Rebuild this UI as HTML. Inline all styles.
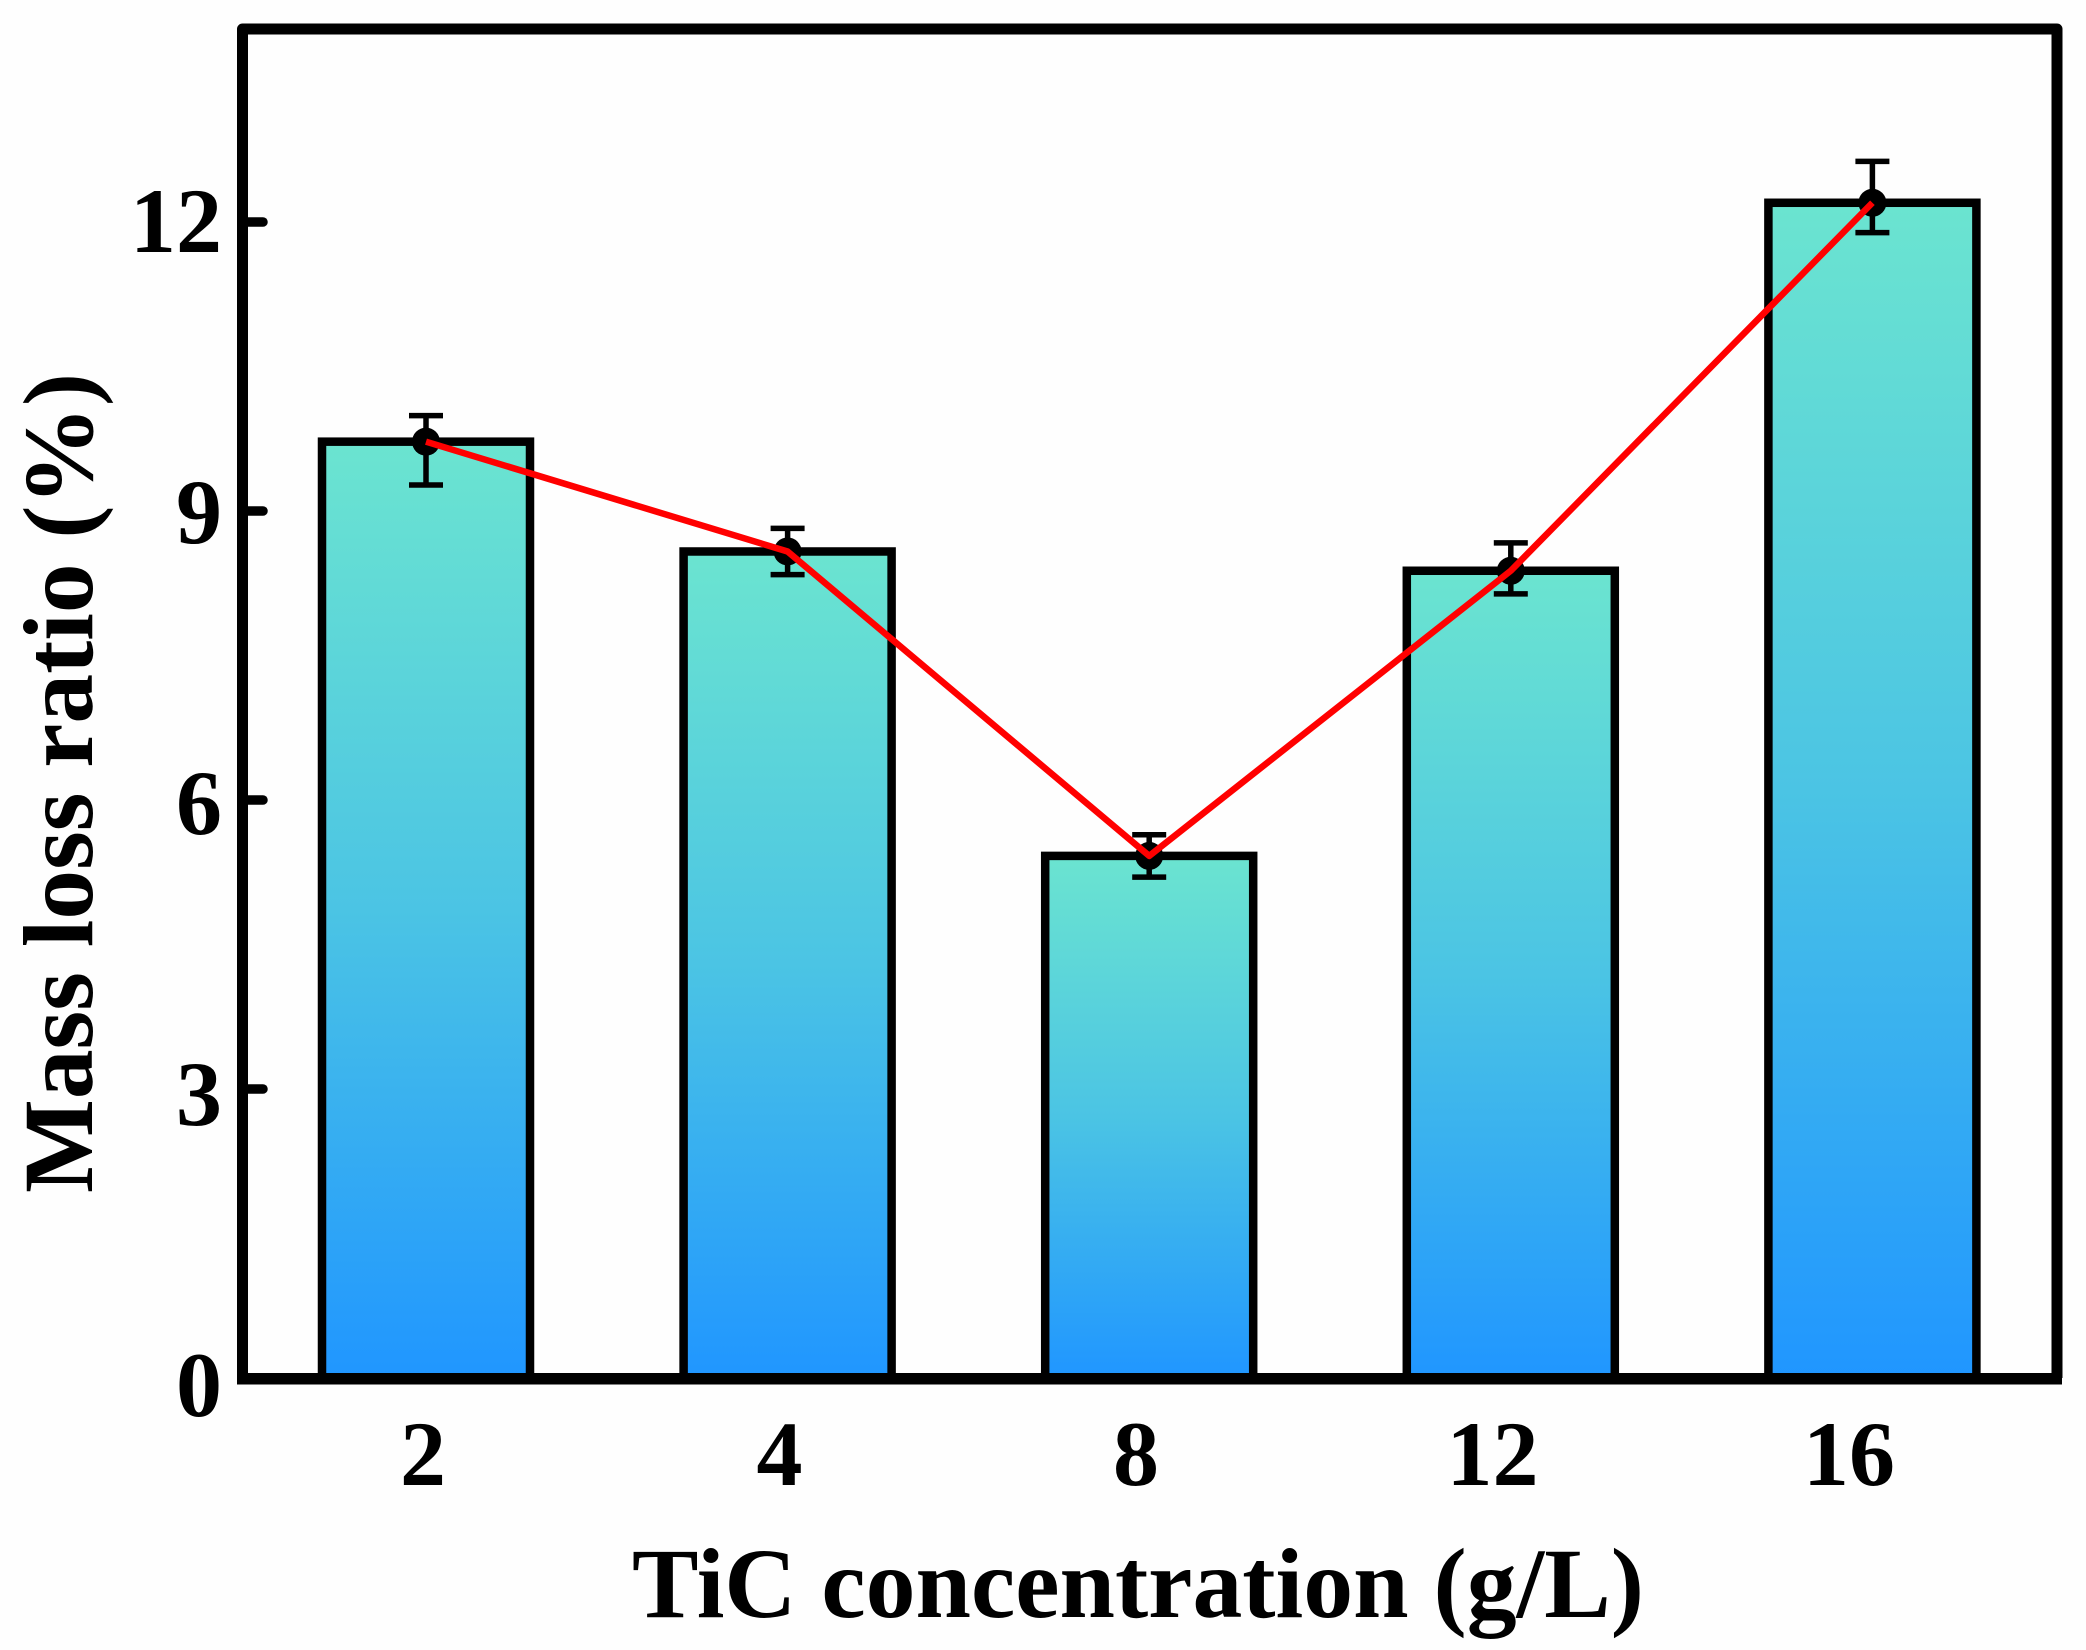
<!DOCTYPE html>
<html lang="en">
<head>
<meta charset="utf-8">
<title>Mass loss ratio vs TiC concentration</title>
<style>
html,body{margin:0;padding:0;background:#fefefe;}
svg{display:block;font-family:"Liberation Serif",serif;font-weight:700;fill:#000;}
</style>
</head>
<body>
<svg id="chart" xmlns="http://www.w3.org/2000/svg" width="2086" height="1650" viewBox="0 0 2086 1650">
<defs>
<linearGradient id="barFill" x1="0" y1="0" x2="0" y2="1">
<stop offset="0" stop-color="#6be4d0"/>
<stop offset="0.5" stop-color="#4bc4e4"/>
<stop offset="1" stop-color="#2096ff"/>
</linearGradient>
</defs>
<rect x="0" y="0" width="2086" height="1650" fill="#fefefe"/>
<text transform="translate(92,783) rotate(-90)" text-anchor="middle" font-size="100" textLength="820" lengthAdjust="spacingAndGlyphs">Mass loss ratio (%)</text>
<text x="1138" y="1617" text-anchor="middle" font-size="100" textLength="1012" lengthAdjust="spacingAndGlyphs">TiC concentration (g/L)</text>
<g id="bars"></g>
<g id="errors"></g>
<g id="markers"></g>
<polyline id="trend" fill="none" stroke="#ff0000" stroke-width="6.5" stroke-linejoin="round"/>
<g id="axes"></g>
<g id="labels"></g>
</svg>
<script>
var categories = ['2', '4', '8', '12', '16'];
var massLoss = [9.72, 8.58, 5.42, 8.38, 12.2];
var errorUp = [0.27, 0.24, 0.22, 0.29, 0.43];
var errorDown = [0.45, 0.24, 0.22, 0.24, 0.31];
var yTicks = [0, 3, 6, 9, 12];

var NS = 'http://www.w3.org/2000/svg';
function mk(tag, parent, attrs) {
  var el = document.createElementNS(NS, tag);
  for (var k in attrs) { el.setAttribute(k, attrs[k]); }
  parent.appendChild(el);
  return el;
}
function yScale(v) { return 1378 - v * 96.33; }
function xScale(i) { return 426 + i * 361.6; }
function xLabelPos(i) { return 423 + i * 356.5; }
function yLabelPos(v) { return 1416 - v * 97; }

var gBars = document.getElementById('bars');
var gErr = document.getElementById('errors');
var gMarks = document.getElementById('markers');
var gAxes = document.getElementById('axes');
var gLabels = document.getElementById('labels');
var BAR_W = 208;
var pts = [];

categories.forEach(function (c, i) {
  var x = xScale(i), y = yScale(massLoss[i]);
  var bar = mk('rect', gBars, {x: x - BAR_W / 2, y: y, width: BAR_W, height: yScale(0) - y, fill: 'url(#barFill)', stroke: '#000', 'stroke-width': 8.5});
  
  

  var yU = yScale(massLoss[i] + errorUp[i]), yD = yScale(massLoss[i] - errorDown[i]);
  var err = mk('path', gErr, {d: 'M' + (x - 17) + ' ' + yU + 'H' + (x + 17) + 'M' + x + ' ' + yU + 'V' + yD + 'M' + (x - 17) + ' ' + yD + 'H' + (x + 17), fill: 'none', stroke: '#000', 'stroke-width': 5.5});
  
  

  var dot = mk('circle', gMarks, {cx: x, cy: y, r: 14, fill: '#000'});
  
  

  pts.push(x + ',' + y);

  var lab = mk('text', gLabels, {x: xLabelPos(i), y: 1485, 'text-anchor': 'middle', 'font-size': 92});
  lab.textContent = c;
  
  
});
document.getElementById('trend').setAttribute('points', pts.join(' '));

var frame = mk('path', gAxes, {d: 'M242.5 1378V29H2057V1378', fill: 'none', stroke: '#000', 'stroke-width': 11, 'stroke-linejoin': 'round'});


var base = mk('rect', gAxes, {x: 237, y: 1373, width: 1825, height: 11.5, fill: '#000'});



yTicks.forEach(function (t) {
  var yy = yScale(t);
  if (t !== 0) {
    var tick = mk('line', gAxes, {x1: 245, x2: 263, y1: yy, y2: yy, stroke: '#000', 'stroke-width': 9.5, 'stroke-linecap': 'round'});
    
    
  }
  var lab = mk('text', gLabels, {x: 222, y: yLabelPos(t), 'text-anchor': 'end', 'font-size': 92});
  lab.textContent = String(t);
  
  
});
</script>
</body>
</html>
